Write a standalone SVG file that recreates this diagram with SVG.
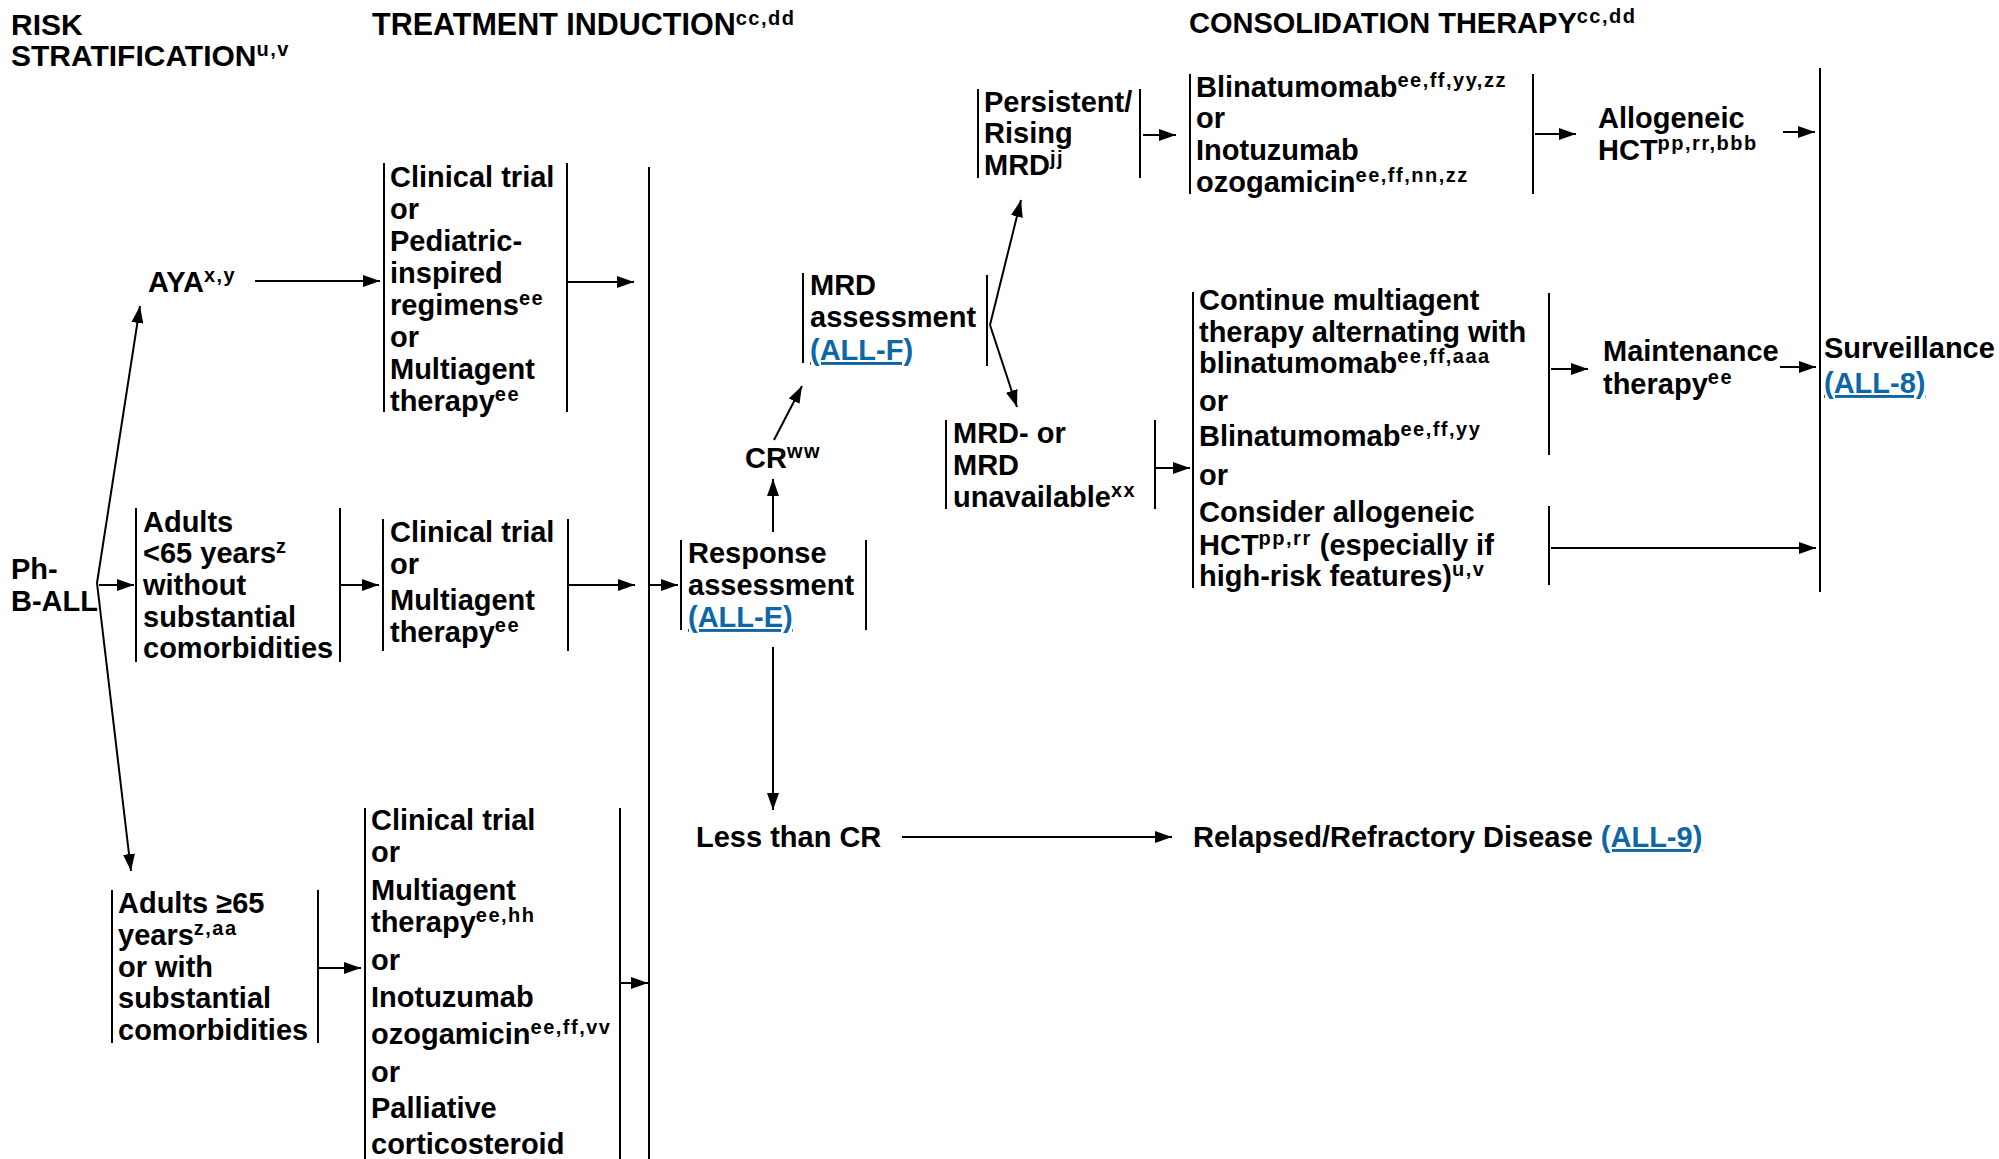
<svg xmlns="http://www.w3.org/2000/svg" width="1999" height="1159" viewBox="0 0 1999 1159">
<defs>
<style>
text{font-family:"Liberation Sans",Arial,sans-serif;font-weight:bold;font-size:29px;fill:#000}
.sup{font-size:20px;letter-spacing:1.5px}
.hdr{font-size:30px}
.hdr2{font-size:30.5px}
.lnk{fill:#0d67a7;text-decoration:underline}
.bar{stroke:#000;stroke-width:2;fill:none}
.con line{stroke:#000;stroke-width:2;fill:none;marker-end:url(#ah)}
</style>
<marker id="ah" viewBox="0 0 17 12" refX="17" refY="6" markerWidth="17" markerHeight="12" markerUnits="userSpaceOnUse" orient="auto"><path d="M0,0 L17,6 L0,12 z" fill="#000"/></marker>
</defs>
<rect width="1999" height="1159" fill="#fff"/>

<g id="headers">
<text class="hdr" x="11" y="35">RISK</text>
<text class="hdr" x="11" y="66">STRATIFICATION<tspan class="sup" dy="-10">u,v</tspan></text>
<text class="hdr2" x="372" y="35">TREATMENT INDUCTION<tspan class="sup" dy="-10">cc,dd</tspan></text>
<text x="1189" y="33">CONSOLIDATION THERAPY<tspan class="sup" dy="-10">cc,dd</tspan></text>
</g>

<g id="ph-ball">
<text x="11" y="579">Ph-</text>
<text x="11" y="611">B-ALL</text>
</g>

<g id="aya">
<text x="148" y="292">AYA<tspan class="sup" dy="-10">x,y</tspan></text>
</g>

<g id="induction-aya">
<line class="bar" x1="384" y1="163" x2="384" y2="412"/>
<line class="bar" x1="567" y1="163" x2="567" y2="412"/>
<text x="390" y="187">Clinical trial</text>
<text x="390" y="219">or</text>
<text x="390" y="251">Pediatric-</text>
<text x="390" y="283">inspired</text>
<text x="390" y="315">regimens<tspan class="sup" dy="-10">ee</tspan></text>
<text x="390" y="347">or</text>
<text x="390" y="379">Multiagent</text>
<text x="390" y="411">therapy<tspan class="sup" dy="-10">ee</tspan></text>
</g>

<g id="adults-lt65">
<line class="bar" x1="136" y1="508" x2="136" y2="662"/>
<line class="bar" x1="340" y1="508" x2="340" y2="662"/>
<text x="143" y="532">Adults</text>
<text x="143" y="563">&lt;65 years<tspan class="sup" dy="-10">z</tspan></text>
<text x="143" y="595">without</text>
<text x="143" y="627">substantial</text>
<text x="143" y="658">comorbidities</text>
</g>

<g id="induction-lt65">
<line class="bar" x1="383" y1="519" x2="383" y2="651"/>
<line class="bar" x1="568" y1="519" x2="568" y2="651"/>
<text x="390" y="542">Clinical trial</text>
<text x="390" y="574">or</text>
<text x="390" y="610">Multiagent</text>
<text x="390" y="642">therapy<tspan class="sup" dy="-10">ee</tspan></text>
</g>

<g id="adults-ge65">
<line class="bar" x1="112" y1="890" x2="112" y2="1043"/>
<line class="bar" x1="318" y1="890" x2="318" y2="1043"/>
<text x="118" y="913">Adults ≥65</text>
<text x="118" y="945">years<tspan class="sup" dy="-10">z,aa</tspan></text>
<text x="118" y="977">or with</text>
<text x="118" y="1008">substantial</text>
<text x="118" y="1040">comorbidities</text>
</g>

<g id="induction-ge65">
<line class="bar" x1="365" y1="808" x2="365" y2="1159"/>
<line class="bar" x1="620" y1="808" x2="620" y2="1159"/>
<text x="371" y="830">Clinical trial</text>
<text x="371" y="862">or</text>
<text x="371" y="900">Multiagent</text>
<text x="371" y="932">therapy<tspan class="sup" dy="-10">ee,hh</tspan></text>
<text x="371" y="970">or</text>
<text x="371" y="1007">Inotuzumab</text>
<text x="371" y="1044">ozogamicin<tspan class="sup" dy="-10">ee,ff,vv</tspan></text>
<text x="371" y="1082">or</text>
<text x="371" y="1118">Palliative</text>
<text x="371" y="1154">corticosteroid</text>
</g>

<g id="induction-collector">
<line class="bar" x1="649" y1="167" x2="649" y2="1159"/>
</g>

<g id="response">
<line class="bar" x1="681" y1="540" x2="681" y2="630"/>
<line class="bar" x1="866" y1="540" x2="866" y2="630"/>
<text x="688" y="563">Response</text>
<text x="688" y="595">assessment</text>
<text x="688" y="627" class="lnk">(ALL-E)</text>
</g>

<g id="cr">
<text x="745" y="468">CR<tspan class="sup" dy="-10">ww</tspan></text>
</g>

<g id="mrd-assessment">
<line class="bar" x1="803" y1="273" x2="803" y2="363"/>
<line class="bar" x1="987" y1="275" x2="987" y2="366"/>
<text x="810" y="295">MRD</text>
<text x="810" y="327">assessment</text>
<text x="810" y="360" class="lnk">(ALL-F)</text>
</g>

<g id="persistent-mrd">
<line class="bar" x1="978" y1="89" x2="978" y2="178"/>
<line class="bar" x1="1140" y1="89" x2="1140" y2="178"/>
<text x="984" y="112">Persistent/</text>
<text x="984" y="143">Rising</text>
<text x="984" y="175">MRD<tspan class="sup" dy="-10">jj</tspan></text>
</g>

<g id="blinatumomab">
<line class="bar" x1="1190" y1="74" x2="1190" y2="194"/>
<line class="bar" x1="1533" y1="74" x2="1533" y2="194"/>
<text x="1196" y="97">Blinatumomab<tspan class="sup" dy="-10">ee,ff,yy,zz</tspan></text>
<text x="1196" y="128">or</text>
<text x="1196" y="160">Inotuzumab</text>
<text x="1196" y="192">ozogamicin<tspan class="sup" dy="-10">ee,ff,nn,zz</tspan></text>
</g>

<g id="allogeneic-hct">
<text x="1598" y="128">Allogeneic</text>
<text x="1598" y="160">HCT<tspan class="sup" dy="-10">pp,rr,bbb</tspan></text>
</g>

<g id="mrd-negative">
<line class="bar" x1="946" y1="420" x2="946" y2="509"/>
<line class="bar" x1="1155" y1="420" x2="1155" y2="509"/>
<text x="953" y="443">MRD- or</text>
<text x="953" y="475">MRD</text>
<text x="953" y="507">unavailable<tspan class="sup" dy="-10">xx</tspan></text>
</g>

<g id="continue-multiagent">
<line class="bar" x1="1193" y1="292" x2="1193" y2="588"/>
<line class="bar" x1="1549" y1="293" x2="1549" y2="455"/>
<line class="bar" x1="1549" y1="506" x2="1549" y2="585"/>
<text x="1199" y="310">Continue multiagent</text>
<text x="1199" y="342">therapy alternating with</text>
<text x="1199" y="373">blinatumomab<tspan class="sup" dy="-10">ee,ff,aaa</tspan></text>
<text x="1199" y="411">or</text>
<text x="1199" y="446">Blinatumomab<tspan class="sup" dy="-10">ee,ff,yy</tspan></text>
<text x="1199" y="485">or</text>
<text x="1199" y="522">Consider allogeneic</text>
<text x="1199" y="555">HCT<tspan class="sup" dy="-10">pp,rr</tspan><tspan dy="10"> (especially if</tspan></text>
<text x="1199" y="586">high-risk features)<tspan class="sup" dy="-10">u,v</tspan></text>
</g>

<g id="maintenance">
<text x="1603" y="361">Maintenance</text>
<text x="1603" y="394">therapy<tspan class="sup" dy="-10">ee</tspan></text>
</g>

<g id="surveillance">
<line class="bar" x1="1820" y1="68" x2="1820" y2="592"/>
<text x="1824" y="358">Surveillance</text>
<text x="1824" y="393" class="lnk">(ALL-8)</text>
</g>

<g id="less-than-cr">
<text x="696" y="847">Less than CR</text>
</g>

<g id="relapsed">
<text x="1193" y="847">Relapsed/Refractory Disease <tspan class="lnk">(ALL-9)</tspan></text>
</g>

<g id="connectors" class="con">
<line x1="97" y1="583" x2="140" y2="306"/>
<line x1="97" y1="583" x2="131" y2="871"/>
<line x1="99" y1="585" x2="134" y2="585"/>
<line x1="255" y1="281" x2="380" y2="281"/>
<line x1="568" y1="282" x2="634" y2="282"/>
<line x1="341" y1="585" x2="379" y2="585"/>
<line x1="569" y1="585" x2="635" y2="585"/>
<line x1="319" y1="968" x2="361" y2="968"/>
<line x1="621" y1="983" x2="648" y2="983"/>
<line x1="650" y1="585" x2="678" y2="585"/>
<line x1="773" y1="532" x2="773" y2="479"/>
<line x1="774" y1="440" x2="802" y2="386"/>
<line x1="990" y1="325" x2="1021" y2="200"/>
<line x1="990" y1="325" x2="1017" y2="407"/>
<line x1="1143" y1="135" x2="1176" y2="135"/>
<line x1="1535" y1="134" x2="1576" y2="134"/>
<line x1="1783" y1="132" x2="1815" y2="132"/>
<line x1="1156" y1="468" x2="1190" y2="468"/>
<line x1="1551" y1="369" x2="1588" y2="369"/>
<line x1="1780" y1="367" x2="1816" y2="367"/>
<line x1="1551" y1="548" x2="1816" y2="548"/>
<line x1="773" y1="647" x2="773" y2="810"/>
<line x1="902" y1="837" x2="1172" y2="837"/>
</g>
</svg>
